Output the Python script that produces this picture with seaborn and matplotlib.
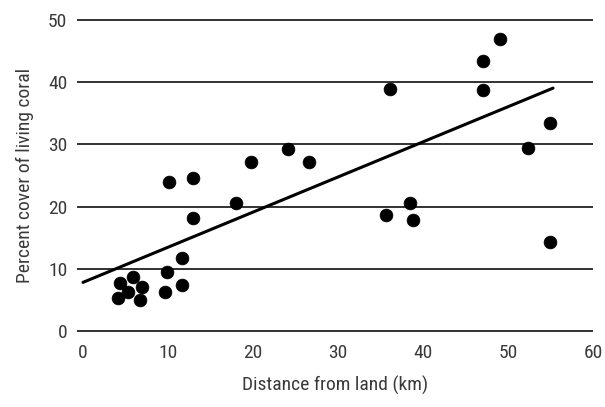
import numpy as np
import pandas as pd
import seaborn as sns
import matplotlib
matplotlib.use("Agg")
import matplotlib.pyplot as plt

distance_km = [4.4, 5.9, 5.3, 6.9, 4.1, 6.7, 9.9, 11.6, 9.6, 11.6,
               10.1, 13.0, 13.0, 18.0, 19.8, 24.1, 26.6,
               36.1, 47.0, 49.1, 47.1, 54.9, 52.3, 35.6, 38.5, 38.8, 54.9]
coral_cover = [7.7, 8.7, 6.3, 7.1, 5.3, 5.0, 9.5, 11.8, 6.3, 7.4,
               23.9, 24.6, 18.2, 20.6, 27.1, 29.2, 27.2,
               38.9, 43.4, 47.0, 38.8, 33.4, 29.4, 18.6, 20.5, 17.9, 14.3]
# regression line as printed in the figure
fit_intercept = 7.8
fit_slope = 0.565
fit_range = [0, 55.3]
x_ticks = [0, 10, 20, 30, 40, 50, 60]
y_ticks = [0, 10, 20, 30, 40, 50]

df = pd.DataFrame({"distance": distance_km, "cover": coral_cover})

sns.set_theme(style="white")
plt.rcParams['font.family'] = ['Roboto Condensed', 'Liberation Sans', 'DejaVu Sans']

fig = plt.figure(figsize=(6.05, 4.07), dpi=100)
ax = fig.add_axes([0.1273, 0.1794, 0.8529, 0.7791])

xs = np.array(fit_range)
fit = pd.DataFrame({"distance": xs, "cover": fit_intercept + fit_slope * xs})
sns.lineplot(data=fit, x="distance", y="cover", ax=ax, color="black", lw=2.2, zorder=3)

sns.scatterplot(data=df, x="distance", y="cover", ax=ax, color="black",
                s=85, marker="o", edgecolor="black", linewidth=0.5, zorder=4)

ax.set_xlim(-0.7, 60)
ax.set_ylim(-0.5, 50.5)
ax.set_xticks(x_ticks)
ax.set_yticks(y_ticks)
ax.yaxis.grid(True, color="#222222", lw=1.3)
ax.xaxis.grid(False)
for s in ax.spines.values():
    s.set_visible(False)
ax.tick_params(axis="both", length=0, labelsize=14, colors="#3a3a3a")
ax.tick_params(axis="y", pad=7)
ax.tick_params(axis="x", pad=7)
ax.set_xlabel("Distance from land (km)", fontsize=14, color="#3a3a3a", labelpad=10)
ax.set_ylabel("Percent cover of living coral", fontsize=14, color="#3a3a3a", labelpad=10)

fig.savefig("out.png", dpi=100)
